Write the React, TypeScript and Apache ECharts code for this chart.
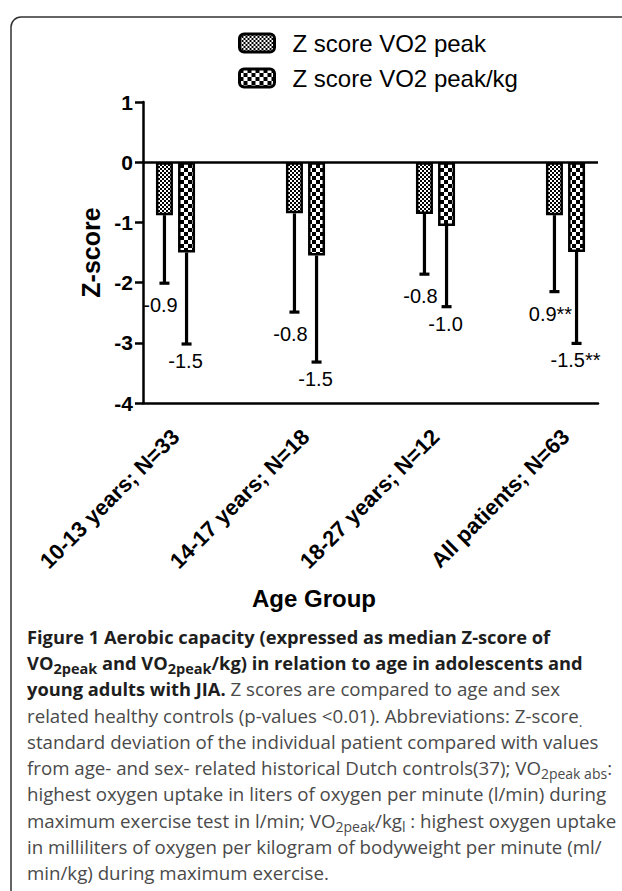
import React, { useEffect, useRef } from "react";
import * as echarts from "echarts";

// ---- data ----
const groups = ["10-13 years; N=33", "14-17 years; N=18", "18-27 years; N=12", "All patients; N=63"];
const seriesNames = ["Z score VO2 peak", "Z score VO2 peak/kg"];
const vo2Peak = [-0.88, -0.85, -0.86, -0.88];
const vo2PeakKg = [-1.5, -1.55, -1.06, -1.49];
const vo2PeakLow = [-2.01, -2.49, -1.86, -2.15];
const vo2PeakKgLow = [-3.02, -3.32, -2.4, -3.01];
const vo2PeakLabels = ["-0.9", "-0.8", "-0.8", "0.9**"];
const vo2PeakKgLabels = ["-1.5", "-1.5", "-1.0", "-1.5**"];
const yMin = -4;
const yMax = 1;
const yStep = 1;

const captionLines = [
  "{b|Figure 1 Aerobic capacity (expressed as median Z-score of}",
  "{b|VO}{bs|2peak}{b| and VO}{bs|2peak}{b|/kg) in relation to age in adolescents and}",
  "{b|young adults with JIA.}{r| Z scores are compared to age and sex}",
  "{r|related healthy controls (p-values <0.01). Abbreviations: Z-score}{rs|.}",
  "{r|standard deviation of the individual patient compared with values}",
  "{r|from age- and sex- related historical Dutch controls(37); VO}{rs|2peak abs}{r|:}",
  "{r|highest oxygen uptake in liters of oxygen per minute (l/min) during}",
  "{r|maximum exercise test in l/min; VO}{rs|2peak}{r|/kg}{rs|l}{r| : highest oxygen uptake}",
  "{r|in milliliters of oxygen per kilogram of bodyweight per minute (ml/}",
  "{r|min/kg) during maximum exercise.}",
];

// ---- layout constants ----
const BAR_W = 17;
const BAR_GAP = 0.3;
const FONT = "Liberation Sans, Arial, sans-serif";
const CAP_FONT = "Open Sans, sans-serif";

function makeChecker(cell: number) {
  const c = document.createElement("canvas");
  c.width = cell * 2;
  c.height = cell * 2;
  const ctx = c.getContext("2d")!;
  ctx.fillStyle = "#ffffff";
  ctx.fillRect(0, 0, cell * 2, cell * 2);
  ctx.fillStyle = "#000000";
  ctx.fillRect(0, 0, cell, cell);
  ctx.fillRect(cell, cell, cell, cell);
  return { image: c, repeat: "repeat" } as any;
}

export default function App() {
  const ref = useRef<HTMLDivElement>(null);
  useEffect(() => {
    if (!ref.current) return;
    const chart = echarts.init(ref.current, null, { renderer: "svg" });

    const slots: string[] = [];
    groups.forEach((g, i) => {
      slots.push(g);
      if (i < groups.length - 1) slots.push("");
    });
    const toSlots = (arr: number[]) => {
      const out: any[] = [];
      arr.forEach((v, i) => {
        out.push(v);
        if (i < arr.length - 1) out.push("-");
      });
      return out;
    };

    const errData: number[][] = [];
    const errLabels: string[] = [];
    [
      [vo2Peak, vo2PeakLow, vo2PeakLabels],
      [vo2PeakKg, vo2PeakKgLow, vo2PeakKgLabels],
    ].forEach((set: any, s) => {
      set[0].forEach((v: number, i: number) => {
        errData.push([2 * i, v, set[1][i], s]);
        errLabels.push(set[2][i]);
      });
    });
    const off = (BAR_W + BAR_W * BAR_GAP) / 2;

    const option: any = {
      animation: false,
      textStyle: { fontFamily: FONT },
      legend: {
        data: seriesNames,
        orient: "vertical",
        left: 238,
        top: 31,
        padding: 0,
        itemWidth: 35,
        itemHeight: 18,
        itemGap: 11,
        icon: "roundRect",
        itemStyle: { borderColor: "#000", borderWidth: 3 },
        textStyle: { fontSize: 24, color: "#000", fontFamily: FONT, lineHeight: 24, padding: [0, 0, 0, 13] },
        selectedMode: false,
      },
      grid: { left: 143, right: 24, top: 102, bottom: 488, containLabel: false },
      xAxis: {
        type: "category",
        data: slots,
        boundaryGap: true,
        axisLine: { onZero: false, lineStyle: { color: "#000", width: 2.5 } },
        axisTick: { alignWithLabel: true, interval: 0, length: 8, lineStyle: { color: "#000", width: 2.5 } },
        axisLabel: {
          interval: 0,
          rotate: 45,
          margin: 30,
          fontSize: 22,
          fontWeight: "bold",
          color: "#000",
          fontFamily: FONT,
        },
      },
      yAxis: {
        type: "value",
        min: yMin,
        max: yMax,
        interval: yStep,
        name: "Z-score",
        nameLocation: "middle",
        nameGap: 40,
        nameTextStyle: { fontSize: 25, fontWeight: "bold", color: "#000", fontFamily: FONT },
        splitLine: { show: false },
        axisLine: { show: true, lineStyle: { color: "#000", width: 2.5 } },
        axisTick: { show: true, length: 8, lineStyle: { color: "#000", width: 2.5 } },
        axisLabel: { fontSize: 21, fontWeight: "bold", color: "#000", margin: 10, fontFamily: FONT },
      },
      series: [
        {
          name: seriesNames[0],
          type: "bar",
          data: toSlots(vo2Peak),
          barWidth: BAR_W,
          barGap: BAR_GAP * 100 + "%",
          itemStyle: { color: makeChecker(2), borderColor: "#000", borderWidth: 2.5 },
          markLine: {
            silent: true,
            symbol: ["none", "none"],
            label: { show: false },
            lineStyle: { color: "#000", width: 2.5, type: "solid" },
            data: [{ yAxis: 0 }],
          },
        },
        {
          name: seriesNames[1],
          type: "bar",
          data: toSlots(vo2PeakKg),
          barWidth: BAR_W,
          barGap: BAR_GAP * 100 + "%",
          itemStyle: { color: makeChecker(4), borderColor: "#000", borderWidth: 2.5 },
        },
        {
          name: "errors",
          type: "custom",
          data: errData,
          encode: { x: 0, y: [1, 2] },
          z: 5,
          renderItem: (params: any, api: any) => {
            const slot = api.value(0);
            const v = api.value(1);
            const low = api.value(2);
            const s = api.value(3);
            const p0 = api.coord([slot, v]);
            const p1 = api.coord([slot, low]);
            const x = p0[0] + (s === 0 ? -off : off);
            const labelDx = s === 0 ? -4 : -1;
            const labelDy = s === 0 ? 22 : 17;
            return {
              type: "group",
              children: [
                { type: "line", shape: { x1: x, y1: p0[1], x2: x, y2: p1[1] }, style: { stroke: "#000", lineWidth: 3.2 } },
                { type: "line", shape: { x1: x - 5, y1: p1[1], x2: x + 5, y2: p1[1] }, style: { stroke: "#000", lineWidth: 3.2 } },
                {
                  type: "text",
                  x: x + labelDx,
                  y: p1[1] + labelDy,
                  style: {
                    text: errLabels[params.dataIndex],
                    fill: "#000",
                    fontSize: 20,
                    fontFamily: FONT,
                    align: "center",
                    verticalAlign: "middle",
                  },
                },
              ],
            };
          },
        },
      ],
      graphic: [
        {
          type: "rect",
          silent: true,
          shape: { x: 11, y: 17, width: 700, height: 1000, r: 10 },
          style: { fill: "none", stroke: "#333", lineWidth: 1.5 },
        },
        {
          type: "text",
          x: 314,
          y: 598,
          style: {
            text: "Age Group",
            fontSize: 24,
            fontWeight: "bold",
            fontFamily: FONT,
            fill: "#000",
            align: "center",
            verticalAlign: "middle",
          },
        },
        {
          type: "text",
          x: 27,
          y: 623,
          style: {
            text: captionLines.join("\n"),
            fontFamily: CAP_FONT,
            fontSize: 18.7,
            lineHeight: 26.3,
            fill: "#4a4a4a",
            rich: {
              b: { fontFamily: CAP_FONT, fontWeight: "bold", fontSize: 18.3, lineHeight: 26.3, fill: "#1e1e1e" },
              bs: { fontFamily: CAP_FONT, fontWeight: "bold", fontSize: 14.5, lineHeight: 12, verticalAlign: "bottom", fill: "#1e1e1e" },
              r: { fontFamily: CAP_FONT, fontSize: 18.7, lineHeight: 26.3, fill: "#4a4a4a" },
              rs: { fontFamily: CAP_FONT, fontSize: 14, lineHeight: 12, verticalAlign: "bottom", fill: "#4a4a4a" },
            },
          },
        },
      ],
    };
    chart.setOption(option);
    return () => chart.dispose();
  }, []);
  return <div ref={ref} style={{ position: "absolute", left: 0, top: 0, width: 622, height: 891 }} />;
}
